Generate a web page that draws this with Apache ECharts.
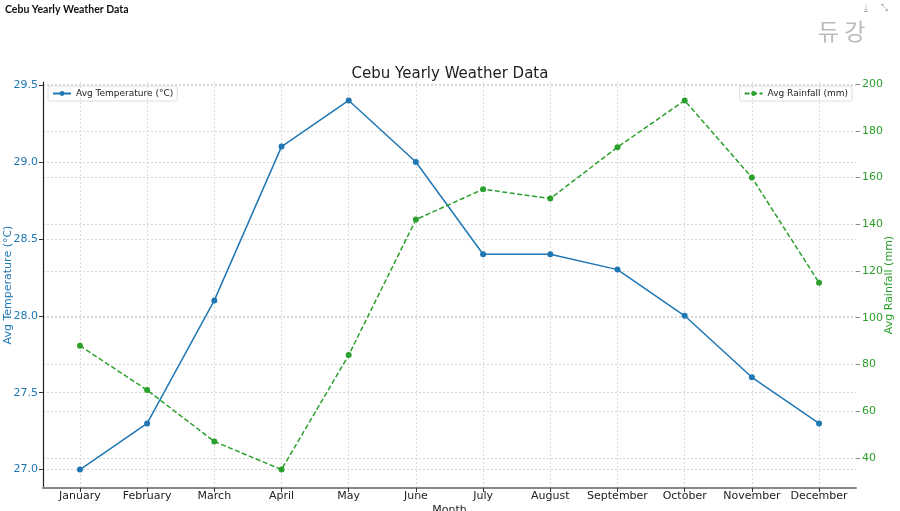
<!DOCTYPE html>
<html>
<head>
<meta charset="utf-8">
<title>Cebu Yearly Weather Data</title>
<script src="https://cdn.jsdelivr.net/npm/echarts@6/dist/echarts.min.js"></script>
<style>
  html, body { margin: 0; padding: 0; background: #fff; }
  #chart { width: 900px; height: 511px; }
</style>
</head>
<body>
<div id="chart"></div>
<script>
  // 月份
  const months = ['January', 'February', 'March', 'April', 'May', 'June',
    'July', 'August', 'September', 'October', 'November', 'December']
  // 平均气温 (°C)
  const avgTemp = [27.0, 27.3, 28.1, 29.1, 29.4, 29.0, 28.4, 28.4, 28.3, 28.0, 27.6, 27.3]
  // 平均降雨 (mm)
  const avgRain = [88, 69, 47, 35, 84, 142, 155, 151, 173, 193, 160, 115]
  // 刻度
  const tempTicks = [27.0, 27.5, 28.0, 28.5, 29.0, 29.5]
  const rainTicks = [40, 60, 80, 100, 120, 140, 160, 180, 200]
  const monthTicks = months.map((m, i) => i)

  const blue = '#1f77b4'
  const green = '#2ca02c'
  const gridLine = { show: true, lineStyle: { color: '#d0d0d0', type: [2, 2], width: 0.8 } }
  const baseFont = 'DejaVu Sans'

  const chartInstance = echarts.init(document.getElementById('chart'), null, { renderer: 'canvas' })

  const option = {
    animation: false,
    backgroundColor: '#fff',
    textStyle: { fontFamily: baseFont },
    title: {
      text: 'Cebu Yearly Weather Data',
      left: 'center',
      top: 62,
      textStyle: { fontSize: 15, fontWeight: 'normal', color: '#222', fontFamily: baseFont }
    },
    graphic: [
      {
        type: 'text', left: 5, top: 4,
        style: { text: 'Cebu Yearly Weather Data', font: 'bold 10.5px Lato', fill: '#111' }
      },
      {
        type: 'text', left: 818, top: 20,
        style: { text: '듀 강', font: '23px "Noto Sans CJK KR"', fill: '#bbbbbb' }
      },
      {
        type: 'text', left: 864, top: 4,
        style: { text: '⤓', font: '9px "DejaVu Sans"', fill: '#aaa' }
      },
      {
        type: 'text', left: 881, top: 4,
        style: { text: '⤡', font: '9px "DejaVu Sans"', fill: '#aaa' }
      }
    ],
    legend: [
      {
        data: ['Avg Temperature (°C)'],
        left: 48, top: 86,
        padding: [3, 4, 3, 4],
        itemWidth: 18, itemHeight: 6, itemGap: 6,
        borderColor: '#dddddd', borderWidth: 1, borderRadius: 2,
        textStyle: { fontSize: 9, color: '#222', fontFamily: baseFont }
      },
      {
        data: ['Avg Rainfall (mm)'],
        right: 48, top: 86,
        padding: [3, 4, 3, 4],
        itemWidth: 18, itemHeight: 6, itemGap: 6,
        borderColor: '#dddddd', borderWidth: 1, borderRadius: 2,
        textStyle: { fontSize: 9, color: '#222', fontFamily: baseFont }
      }
    ],
    grid: { left: 43, right: 44, top: 82, bottom: 23, containLabel: false, outerBoundsMode: 'none' },
    xAxis: {
      type: 'value',
      min: -0.55,
      max: 11.55,
      name: 'Month',
      nameLocation: 'middle',
      nameGap: 17,
      nameMoveOverlap: false,
      nameTextStyle: { fontSize: 11, color: '#222' },
      axisLine: { show: true, onZero: false, lineStyle: { color: '#888', width: 2 } },
      axisTick: { show: true, length: 4, customValues: monthTicks, lineStyle: { color: '#333' } },
      axisLabel: {
        customValues: monthTicks,
        fontSize: 11, color: '#222', margin: 3,
        formatter: v => months[Math.round(v)] || ''
      },
      splitLine: gridLine
    },
    yAxis: [
      {
        type: 'value',
        min: 26.88,
        max: 29.52,
        position: 'left',
        name: 'Avg Temperature (°C)',
        nameLocation: 'middle',
        nameGap: 29,
        nameMoveOverlap: false,
        nameTextStyle: { fontSize: 11, color: blue },
        axisLine: { show: true, onZero: false, lineStyle: { color: '#222', width: 1.2 } },
        axisTick: { show: true, length: 4, customValues: tempTicks, lineStyle: { color: '#333' } },
        axisLabel: {
          customValues: tempTicks,
          fontSize: 11, color: blue, margin: 5,
          formatter: v => v.toFixed(1)
        },
        splitLine: gridLine
      },
      {
        type: 'value',
        min: 27.1,
        max: 200.9,
        position: 'right',
        name: 'Avg Rainfall (mm)',
        nameLocation: 'middle',
        nameGap: 28,
        nameMoveOverlap: false,
        nameTextStyle: { fontSize: 11, color: green },
        axisLine: { show: false, onZero: false },
        axisTick: { show: true, length: 4, customValues: rainTicks, lineStyle: { color: '#888' } },
        axisLabel: {
          customValues: rainTicks,
          fontSize: 11, color: green, margin: 6
        },
        splitLine: gridLine
      }
    ],
    series: [
      {
        name: 'Avg Temperature (°C)',
        type: 'line',
        yAxisIndex: 0,
        data: avgTemp.map((v, i) => [i, v]),
        symbol: 'circle',
        symbolSize: 6,
        itemStyle: { color: blue },
        lineStyle: { color: blue, width: 1.5 }
      },
      {
        name: 'Avg Rainfall (mm)',
        type: 'line',
        yAxisIndex: 1,
        data: avgRain.map((v, i) => [i, v]),
        symbol: 'circle',
        symbolSize: 6,
        itemStyle: { color: green },
        lineStyle: { color: green, width: 1.5, type: [5, 2.5] }
      }
    ]
  }
  chartInstance.setOption(option)
</script>
</body>
</html>
